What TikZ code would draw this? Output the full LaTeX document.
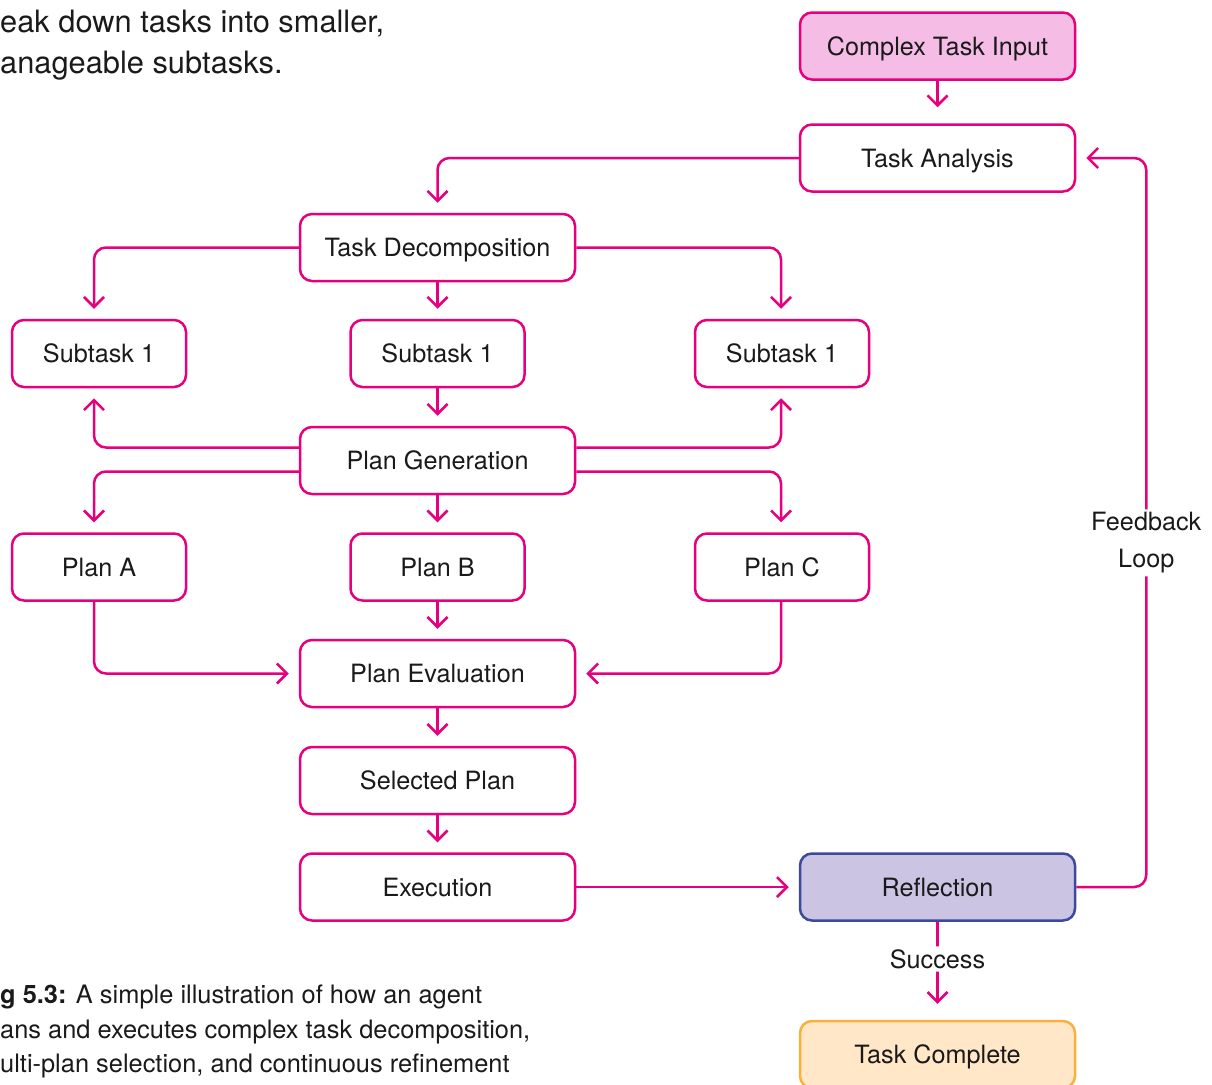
\documentclass[tikz,border=0pt]{standalone}
\usepackage{fontspec}
\setmainfont{TeX Gyre Heros}
\usetikzlibrary{arrows.meta}
\definecolor{mag}{HTML}{E6007E}
\definecolor{pinkfill}{HTML}{F5BDE6}
\definecolor{lavfill}{HTML}{CBC4E3}
\definecolor{navy}{HTML}{3D4A9C}
\definecolor{peach}{HTML}{FFE7C8}
\definecolor{orng}{HTML}{F8B23B}
\definecolor{ink}{HTML}{1A1A1A}
\begin{document}
\begin{tikzpicture}[x=1pt,y=-1pt,
  box/.style={draw=mag, line width=2.5pt, rounded corners=12pt, minimum width=275pt, minimum height=67pt, inner sep=0pt, fill=white, text=ink, font=\fontsize{25.2}{29}\selectfont, text height=18pt, text depth=0pt},
  sbox/.style={box, minimum width=174pt},
  arr/.style={draw=mag, line width=2.5pt, rounded corners=12pt, -{Straight Barb[length=10pt,width=20pt]}, shorten >=10pt},
  lbl/.style={fill=white, text=ink, font=\fontsize{25.2}{37}\selectfont, inner sep=3pt, align=center},
  plain/.style={inner sep=0pt, text=ink, anchor=base west}
]
\useasboundingbox (0,0) rectangle (1212,1084);
\clip (0,0) rectangle (1212,1084);

% intro text
\node[plain, font=\fontsize{30.8}{40}\selectfont] (intro1) at (0,32) {eak down tasks into smaller,};
\node[plain, font=\fontsize{30.8}{40}\selectfont] (intro2) at (0,73) {anageable subtasks.};

% caption
\node[plain, font=\fontsize{25.4}{30}\selectfont] (cap1) at (0,1003) {\textbf{g 5.3:} A simple illustration of how an agent};
\node[plain, font=\fontsize{25.4}{30}\selectfont] (cap2) at (0,1038) {ans and executes complex task decomposition,};
\node[plain, font=\fontsize{25.4}{30}\selectfont] (cap3) at (0,1072) {ulti-plan selection, and continuous refinement};

% nodes
\node[box, fill=pinkfill] (CTI) at (937.5,46) {Complex Task Input};
\node[box] (TA) at (937.5,158) {Task Analysis};
\node[box] (TD) at (437.5,247.5) {Task Decomposition};
\node[sbox] (S1) at (99,353.5) {Subtask 1};
\node[sbox] (S2) at (437.5,353.5) {Subtask 1};
\node[sbox] (S3) at (782,353.5) {Subtask 1};
\node[box] (PG) at (437.5,460.5) {Plan Generation};
\node[sbox] (PA) at (99,567) {Plan A};
\node[sbox] (PB) at (437.5,567) {Plan B};
\node[sbox] (PC) at (782,567) {Plan C};
\node[box] (PE) at (437.5,673.5) {Plan Evaluation};
\node[box] (SP) at (437.5,780.5) {Selected Plan};
\node[box] (EX) at (437.5,887) {Execution};
\node[box, fill=lavfill, draw=navy] (RF) at (937.5,887) {Reflection};
\node[box, fill=peach, draw=orng] (TC) at (937.5,1054.5) {Task Complete};

% connectors
\draw[arr, shorten >=16pt] (CTI) -- (TA);
\draw[arr] (TA.west) -| (TD.north);
\draw[arr] (TD.west) -| ([xshift=-5pt]S1.north);
\draw[arr] (TD) -- (S2);
\draw[arr] (TD.east) -| ([xshift=-1pt]S3.north);
\draw[arr] (S2) -- (PG);
\draw[arr] ([yshift=13pt]PG.west) -| ([xshift=-5pt]S1.south);
\draw[arr] ([yshift=13pt]PG.east) -| ([xshift=-1pt]S3.south);
\draw[arr] ([yshift=-11pt]PG.west) -| ([xshift=-5pt]PA.north);
\draw[arr] ([yshift=-11pt]PG.east) -| ([xshift=-1pt]PC.north);
\draw[arr] (PG) -- (PB);
\draw[arr] ([xshift=-5pt]PA.south) |- (PE.west);
\draw[arr] ([xshift=-1pt]PC.south) |- (PE.east);
\draw[arr] (PB) -- (PE);
\draw[arr] (PE) -- (SP);
\draw[arr] (SP) -- (EX);
\draw[arr] (EX) -- (RF);
\draw[arr] (RF.east) -- ++(70,0) |- node[lbl, pos=0.236] (FB) {Feedback\\Loop} (TA.east);
\draw[arr, shorten >=16pt] (RF) -- node[lbl, pos=0.38] (SU) {Success} (TC);
\end{tikzpicture}
\end{document}
